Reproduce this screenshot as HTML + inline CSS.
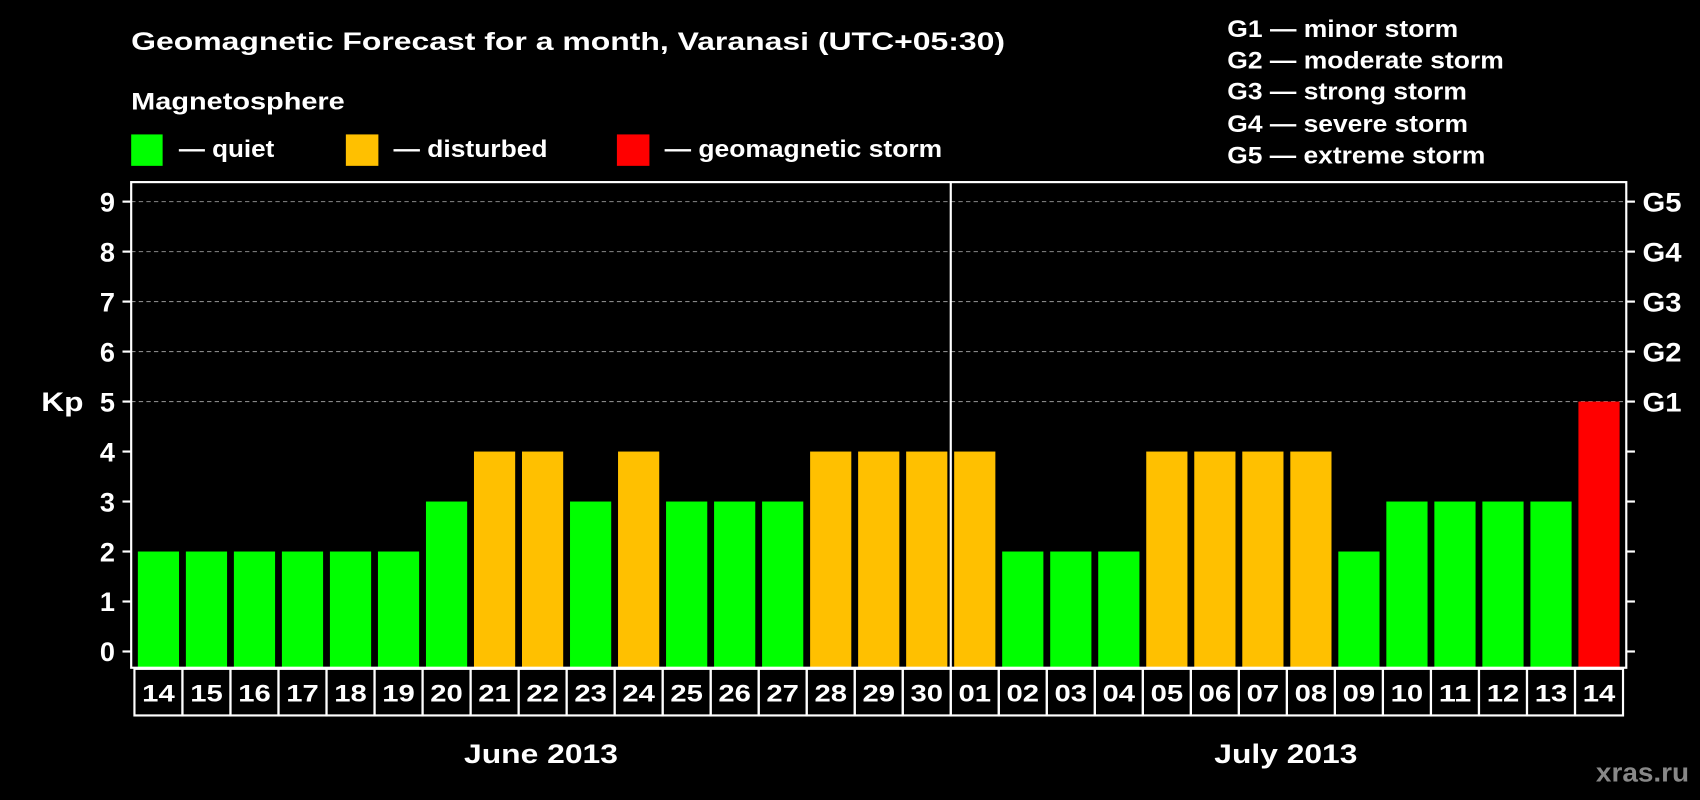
<!DOCTYPE html>
<html><head><meta charset="utf-8"><style>
html,body{margin:0;padding:0;background:#000;width:1700px;height:800px;overflow:hidden}
svg{display:block;font-family:"Liberation Sans",Arial,sans-serif;font-weight:bold}
</style></head><body>
<svg id="chart" width="1700" height="800" viewBox="0 0 1568 738" preserveAspectRatio="none" xmlns="http://www.w3.org/2000/svg">
<rect width="1568" height="738" fill="#000"/>
<text x="121" y="46" fill="#fff" font-size="23" textLength="806" lengthAdjust="spacingAndGlyphs">Geomagnetic Forecast for a month, Varanasi (UTC+05:30)</text>
<text x="121" y="101" fill="#fff" font-size="22" textLength="197" lengthAdjust="spacingAndGlyphs">Magnetosphere</text>
<g><rect x="121" y="124" width="29" height="29" fill="#00ff00"/><text x="165" y="145" fill="#fff" font-size="22" textLength="88" lengthAdjust="spacingAndGlyphs">— quiet</text></g>
<g><rect x="319" y="124" width="30" height="29" fill="#ffc000"/><text x="363" y="145" fill="#fff" font-size="22" textLength="142" lengthAdjust="spacingAndGlyphs">— disturbed</text></g>
<g><rect x="569" y="124" width="30" height="29" fill="#ff0000"/><text x="613" y="145" fill="#fff" font-size="22" textLength="256" lengthAdjust="spacingAndGlyphs">— geomagnetic storm</text></g>
<g fill="#fff" font-size="22" lengthAdjust="spacingAndGlyphs">
<text x="1132" y="34" textLength="213" lengthAdjust="spacingAndGlyphs">G1 — minor storm</text>
<text x="1132" y="63" textLength="255" lengthAdjust="spacingAndGlyphs">G2 — moderate storm</text>
<text x="1132" y="92" textLength="221" lengthAdjust="spacingAndGlyphs">G3 — strong storm</text>
<text x="1132" y="122" textLength="222" lengthAdjust="spacingAndGlyphs">G4 — severe storm</text>
<text x="1132" y="151" textLength="238" lengthAdjust="spacingAndGlyphs">G5 — extreme storm</text>
</g>
<text x="38" y="379" fill="#fff" font-size="25" textLength="39" lengthAdjust="spacingAndGlyphs">Kp</text>
<g id="grid"></g>
<g id="bars"></g>
<g id="axes"></g>
<text x="428" y="704" fill="#fff" font-size="25" textLength="142" lengthAdjust="spacingAndGlyphs">June 2013</text>
<text x="1120" y="704" fill="#fff" font-size="25" textLength="132" lengthAdjust="spacingAndGlyphs">July 2013</text>
<text x="1472" y="721" fill="#888" font-size="24" textLength="86" lengthAdjust="spacingAndGlyphs">xras.ru</text>
</svg>
<script>
const days = ["14","15","16","17","18","19","20","21","22","23","24","25","26","27","28","29","30","01","02","03","04","05","06","07","08","09","10","11","12","13","14"];
const kpValues = [2,2,2,2,2,2,3,4,4,3,4,3,3,3,4,4,4,4,2,2,2,4,4,4,4,2,3,3,3,3,5];
const yTicks = [0,1,2,3,4,5,6,7,8,9];
const stormLabels = ["G1","G2","G3","G4","G5"];
const stormLevels = [5,6,7,8,9];

const NS="http://www.w3.org/2000/svg";
const L=121,R=1500,T=168,B=616,Y0=601,Y9=186;
const x0=124,pitch=(1497-124)/days.length,barW=38;
function y(v){return Y0-(Y0-Y9)*v/9;}
function xc(i){return x0+pitch*(i+0.5);}
function mk(tag,attrs,parent){const e=document.createElementNS(NS,tag);for(const k in attrs)e.setAttribute(k,attrs[k]);parent.appendChild(e);return e;}
const grid=document.getElementById('grid'),bars=document.getElementById('bars'),axes=document.getElementById('axes');
stormLevels.forEach((v,i)=>{
  const g=mk('line',{x1:L,x2:R,y1:y(v),y2:y(v),stroke:'#888','stroke-dasharray':'4,3','stroke-width':1},grid);
  
  
  const t=mk('text',{x:1515,y:y(v)+9,fill:'#fff','font-size':25,textLength:36,lengthAdjust:'spacingAndGlyphs'},axes);
  t.textContent=stormLabels[i];
  
  
});
kpValues.forEach((v,i)=>{
  const c=v>=5?'#ff0000':(v>=4?'#ffc000':'#00ff00');
  const r=mk('rect',{x:xc(i)-barW/2,y:y(v),width:barW,height:B-y(v),fill:c},bars);
  
  
});
mk('rect',{x:L,y:T,width:R-L,height:B-T,fill:'none',stroke:'#fff','stroke-width':2},axes);
const sep=mk('line',{x1:x0+pitch*17,x2:x0+pitch*17,y1:T,y2:B,stroke:'#fff','stroke-width':2},axes);


yTicks.forEach(v=>{
  mk('line',{x1:113,x2:L,y1:y(v),y2:y(v),stroke:'#fff','stroke-width':2},axes);
  mk('line',{x1:R,x2:1508,y1:y(v),y2:y(v),stroke:'#fff','stroke-width':2},axes);
  const t=mk('text',{x:106,y:y(v)+9,fill:'#fff','font-size':25,'text-anchor':'end'},axes);
  t.textContent=v;
  
  
});
days.forEach((d,i)=>{
  const bx=mk('rect',{x:x0+pitch*i,y:617,width:pitch,height:43,fill:'none',stroke:'#fff','stroke-width':2},axes);
  
  
  const t=mk('text',{x:xc(i)-15,y:647,fill:'#fff','font-size':22,textLength:30,lengthAdjust:'spacingAndGlyphs'},axes);
  t.textContent=d;
  
  
});
</script>
</body></html>
